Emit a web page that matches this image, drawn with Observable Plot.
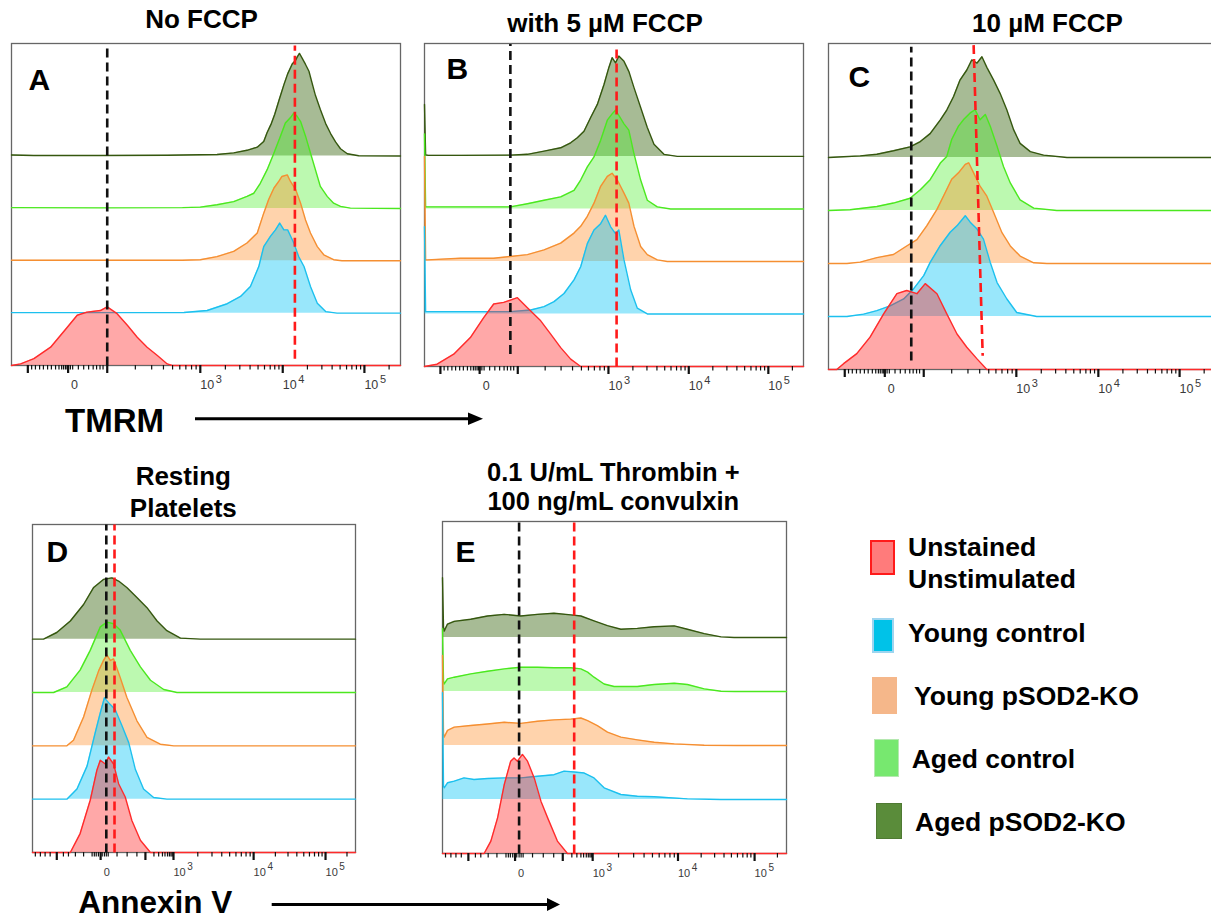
<!DOCTYPE html>
<html><head><meta charset="utf-8">
<script src="https://cdn.jsdelivr.net/npm/d3@7"></script>
<script src="https://cdn.jsdelivr.net/npm/@observablehq/plot@0.6"></script>
<style>
html,body{margin:0;padding:0;background:#fff;overflow:hidden;}
#root{position:relative;width:1211px;height:922px;overflow:hidden;font-family:"Liberation Sans",Arial,sans-serif;}
.t{position:absolute;white-space:nowrap;font-weight:bold;line-height:1;color:#000;}
.sw{position:absolute;box-sizing:border-box;}
</style></head><body><div id="root"></div>
<script>
// ---------- Data: histograms as [display channel (0-1024), height (row spacing = 100)] ----------
// Panel A – TMRM, no FCCP
const A_dark   = [[0,2],[59,1],[234,1],[410,1.5],[497,2.5],[541,3],[585,6],[620,11],[647,17],[664,28],[673,45],[684,62],[693,80],[704,106],[717,136],[727,157],[739,176],[748,183],[752,189],[758,196],[765,187],[774,175],[783,162],[791,140],[800,116],[813,89],[827,62],[840,43],[853,27],[866,14],[884,4.5],[914,0.5],[1024,0]];
const A_green  = [[0,1.5],[234,1],[450,1.5],[497,2.5],[541,7],[585,13],[620,23],[638,29],[655,48],[673,74],[691,106],[708,138],[721,163],[734,173],[743,182],[752,176],[761,166],[774,138],[787,106],[800,74],[813,42],[831,23],[848,10],[866,4],[892,0.5],[1024,0]];
const A_orange = [[0,1],[300,1],[450,1],[497,2],[541,8],[585,18],[620,34],[647,53],[664,91],[677,117],[691,139],[704,152],[712,161],[726,164],[734,152],[748,136],[761,110],[774,78],[787,53],[805,27],[822,11.5],[848,2],[870,0],[1024,0]];
const A_blue   = [[0,1],[300,1],[454,1.3],[515,5],[568,18],[603,32],[629,51],[651,89],[664,127],[682,147],[695,159],[706,172],[717,159],[727,159],[743,134],[756,108],[770,89],[787,51],[805,19],[827,3],[857,0],[1024,0]];
const A_red    = [[0,0],[24,3],[59,13],[103,35],[147,73],[173,96],[199,102],[234,105],[252,112],[278,99],[305,77],[331,54],[357,35],[384,19],[410,3],[423,0],[1024,0]];
// Panel B – TMRM, 5 µM FCCP
const B_dark   = [[0,99],[3,3],[10,2],[100,2],[232,2.5],[278,4],[323,10],[368,16.5],[395,26],[413,35.5],[431,48],[449,74],[467,99],[485,137],[498,169],[507,188],[516,178],[525,191],[539,181],[552,162],[566,131],[584,93],[602,55],[620,23],[647,4],[683,0],[1024,0]];
const B_green  = [[0,143],[3,4],[7,4],[232,4],[278,10],[323,16.5],[368,23],[404,35.5],[422,55],[440,80],[458,99],[476,131],[485,150],[494,169],[507,181],[516,188],[525,178],[539,162],[552,150],[566,105],[584,55],[602,16.5],[629,4],[665,0],[1024,0]];
const B_orange = [[0,200],[3,3],[7,3],[97,6],[187,6],[232,9.5],[278,13],[323,22],[368,35],[404,54],[422,67],[440,86],[458,111],[476,143],[494,162],[507,168],[521,155],[539,130],[552,111],[566,67],[584,28.5],[602,13],[629,3],[656,0],[1024,0]];
const B_blue   = [[0,166],[3,4.4],[7,4.4],[142,4.4],[232,4.4],[287,7.6],[323,14],[350,23.5],[377,39],[404,65],[422,90],[440,134],[458,160],[476,172],[489,188],[503,166],[516,153],[525,160],[539,103],[557,46],[575,11],[602,0],[1024,0]];
const B_red    = [[0,0],[34,4.4],[79,23.5],[124,55],[160,93],[187,119],[214,122],[251,131],[278,112],[314,87],[341,61.5],[368,36],[395,14],[422,0],[1024,0]];
// Panel C – TMRM, 10 µM FCCP
const C_dark   = [[0,0],[40,1.3],[84,3],[128,6],[172,12.6],[216,20],[243,30],[269,45],[296,71],[313,89.5],[331,115],[348,146],[366,165],[379,184],[393,178],[406,190],[419,170],[437,146],[454,121],[472,89.5],[490,52],[507,26.5],[534,11],[569,4.4],[631,0],[1024,0]];
const C_green  = [[0,0],[57,1.3],[128,7.6],[172,14],[216,23],[243,39],[269,58],[296,89.5],[313,102],[326,134],[344,159],[357,171],[375,184],[388,190],[401,171],[415,181],[428,159],[446,121],[463,83],[481,52],[507,20],[543,4.4],[604,0],[1024,0]];
const C_orange = [[0,0],[49,0],[84,2.5],[128,11],[172,17],[207,33],[234,45],[260,71],[287,102],[309,134],[326,159],[344,171],[362,187],[371,190],[384,171],[401,146],[419,127],[437,96],[459,58],[481,33],[507,14],[543,1.3],[578,0],[1024,0]];
const C_blue   = [[0,0],[49,0],[93,4.4],[128,11],[163,20],[199,33],[225,52],[252,77],[269,102],[296,134],[322,159],[340,171],[362,190],[375,178],[393,165],[410,146],[428,102],[446,64],[472,33],[498,7.6],[551,0],[1024,0]];
const C_red    = [[0,0],[22,0],[40,11],[75,30],[110,61],[146,105],[181,143],[207,149],[234,143],[256,162],[287,143],[313,105],[340,67],[366,42],[393,20],[419,0],[1024,0]];
// Panel D – Annexin V, resting
const D_dark   = [[0,0],[35,0],[77,12.5],[120,34],[162,65],[194,97],[225,112],[252,115],[273,109],[299,97],[331,78],[363,59],[395,34],[426,16],[469,2],[532,0],[1024,0]];
const D_green  = [[0,0],[67,0],[109,10.6],[151,42],[183,79],[215,123],[236,132],[257,129],[278,117],[310,79],[342,48],[374,23],[416,5.6],[458,0],[1024,0]];
const D_orange = [[0,0],[109,0],[130,10.6],[162,54],[188,104],[210,141],[225,160],[236,170],[247,160],[257,163],[278,128],[299,91],[331,47],[363,16],[405,3],[448,0],[1024,0]];
const D_blue   = [[0,0],[109,0],[141,19],[173,62],[199,125],[215,162],[228,190],[241,181],[262,168],[284,137],[305,106],[326,56],[352,19],[384,3],[426,0],[1024,0]];
const D_red    = [[0,0],[120,0],[151,35.5],[183,98],[204,154],[215,173],[231,166],[241,179],[257,166],[273,129],[294,104],[315,60],[342,23],[374,0],[1024,0]];
// Panel E – Annexin V, thrombin + convulxin
const E_dark   = [[0,111],[3,20],[5,12],[15,25],[35,30],[84,34],[134,40],[184,43],[233,40],[283,43],[332,45],[382,42],[412,40],[451,31],[491,22],[531,15.5],[580,17],[630,20],[690,21.6],[729,15.5],[779,7.4],[829,1.2],[868,0],[1024,0]];
const E_green  = [[0,117],[3,20],[5,14],[15,23.5],[35,26.6],[84,32.7],[134,37.7],[184,42],[233,45],[283,45],[332,44],[382,44],[412,42],[432,36],[451,26.6],[481,14],[511,9.3],[580,9.3],[630,13],[690,15.5],[729,13],[779,5],[829,0.6],[870,0],[1024,0]];
const E_orange = [[0,167],[3,22],[5,15.5],[15,28],[35,34],[84,37],[134,40],[184,43],[233,41],[283,45],[332,47.6],[382,49],[412,51],[432,46],[461,37],[491,25],[531,15.5],[580,10.5],[630,6],[690,3],[779,0.6],[878,0],[1024,0]];
const E_blue   = [[0,198],[3,25],[5,21.6],[15,31],[35,34],[64,40],[94,37],[134,39],[184,40],[233,40],[283,43],[332,46],[362,52.5],[392,51],[422,49],[451,40],[481,21.6],[531,9.3],[580,6],[630,5],[729,1.2],[829,0],[1024,0]];
const E_red    = [[0,0],[124,0],[144,23],[164,66],[184,128],[203,171],[213,177],[223,171],[238,183.5],[253,171],[273,140],[293,97],[313,66],[342,23],[372,0],[1024,0]];

// Gate lines (channel, from/to height)
const A_black = [{x1:252,x2:252,y1:0,y2:606}];   const A_redLine = [{x1:746,x2:746,y1:13,y2:611}];
const B_black = [{x1:232,x2:232,y1:24,y2:614}];   const B_redLine = [{x1:519,x2:519,y1:0,y2:612}];
const C_black = [{x1:219,x2:219,y1:17,y2:609}];   const C_redLine = [{x1:384,x2:408,y1:612,y2:26}];
const D_black = [{x1:234,x2:234,y1:0,y2:615}];    const D_redLine = [{x1:260,x2:260,y1:0,y2:615}];
const E_black = [{x1:228,x2:228,y1:0,y2:615}];    const E_redLine = [{x1:392,x2:392,y1:0,y2:615}];

// Axis ticks (display channels)
const TMRM_major = [43,149,252,497,714,929];
const TMRM_minor = [53,63,74,84,95,105,116,125,132,137,142,146,150,155,161,176,190,203,215,224,233,241,
  326,369,400,424,443,459,474,486, 563,601,628,649,666,681,693,704, 779,817,844,865,882,896,908,919, 994];
const TMRM_zero = [{ch:149,t:"0"}];
const TMRM_pow  = [{ch:497,e:"3"},{ch:714,e:"4"},{ch:929,e:"5"}];
const ANX_major = [77,216,358,447,701,929];
const ANX_minor = [9,25,40,56,98,114,136,162,189,196,202,209,221,228,234,240,268,300,331,
  385,400,412,420,428,434,439,443, 524,569,600,625,645,662,677,690, 770,810,838,860,878,894,907,918, 997];
const ANX_zero = [{ch:216,t:"0"}];
const ANX_pow  = [{ch:447,e:"3"},{ch:701,e:"4"},{ch:929,e:"5"}];

// Series (top row first so lower rows draw over)
const seriesKeys   = ["dark","green","orange","blue","red"];
const seriesOffset = [400,300,200,100,0];
const seriesStroke = ["#35570f","#4be81f","#f58f32","#1cc0ee","#ff2b2b"];
const seriesFill   = ["#3c6914","#50f030","#ff8c26","#00c3f5","#ff1a1a"];
const seriesOpac   = [0.45,0.38,0.38,0.4,0.38];

const legendLabels = [["Unstained","Unstimulated"],["Young control"],["Young pSOD2-KO"],["Aged control"],["Aged pSOD2-KO"]];

const panels = [
  {letter:"A", left:11, top:43, w:389, h:322, curves:[A_dark,A_green,A_orange,A_blue,A_red], black:A_black, red:A_redLine, axis:"T", ld:[17,25]},
  {letter:"B", left:424, top:43, w:379, h:323, curves:[B_dark,B_green,B_orange,B_blue,B_red], black:B_black, red:B_redLine, axis:"T", ld:[22,14]},
  {letter:"C", left:828, top:43, w:387, h:326, curves:[C_dark,C_green,C_orange,C_blue,C_red], black:C_black, red:C_redLine, axis:"T", ld:[20,22]},
  {letter:"D", left:32, top:524, w:323, h:328, curves:[D_dark,D_green,D_orange,D_blue,D_red], black:D_black, red:D_redLine, axis:"N", ld:[14,16]},
  {letter:"E", left:442, top:521, w:344, h:332, curves:[E_dark,E_green,E_orange,E_blue,E_red], black:E_black, red:E_redLine, axis:"N", ld:[13,19]},
];

const root = document.getElementById("root");
const FONT = '"Liberation Sans", Arial, sans-serif';

for (const p of panels) {
  const major = p.axis === "T" ? TMRM_major : ANX_major;
  const minor = p.axis === "T" ? TMRM_minor : ANX_minor;
  const zero  = p.axis === "T" ? TMRM_zero : ANX_zero;
  const pow   = p.axis === "T" ? TMRM_pow : ANX_pow;
  const fs  = p.axis === "T" ? 12.5 : 11;
  const efs = p.axis === "T" ? 11 : 10;
  const marks = [Plot.frame({stroke:"#666", strokeWidth:1.3})];
  p.curves.forEach((data, i) => {
    const off = seriesOffset[i];
    marks.push(Plot.areaY(data, {x: d => d[0], y1: off, y2: d => off + d[1], fill: seriesFill[i], fillOpacity: seriesOpac[i]}));
    marks.push(Plot.line(data, {x: d => d[0], y: d => off + d[1], stroke: seriesStroke[i], strokeWidth: 1.4}));
  });
  marks.push(Plot.axisX({ticks: minor, tickSize: 4.5, tickFormat: () => "", stroke: "#111", strokeWidth: 1.2, label: null}));
  marks.push(Plot.axisX({ticks: major, tickSize: 8, tickFormat: () => "", stroke: "#111", strokeWidth: 2.2, label: null}));
  marks.push(Plot.text(zero, {x: "ch", text: "t", frameAnchor: "bottom", textAnchor: "start", dx: 3, dy: 23, fontSize: fs, fill: "#3a3a3a"}));
  marks.push(Plot.text(pow, {x: "ch", text: () => "10", frameAnchor: "bottom", textAnchor: "start", dy: 23, fontSize: fs, fill: "#3a3a3a"}));
  marks.push(Plot.text(pow, {x: "ch", text: "e", frameAnchor: "bottom", textAnchor: "start", dx: fs * 1.12 + 1.5, dy: 17, fontSize: efs, fill: "#3a3a3a"}));
  marks.push(Plot.link(p.black, {x1: "x1", x2: "x2", y1: "y1", y2: "y2", stroke: "#111", strokeWidth: 2.6, strokeDasharray: "9,5"}));
  marks.push(Plot.link(p.red, {x1: "x1", x2: "x2", y1: "y1", y2: "y2", stroke: "#ff1a1a", strokeWidth: 2.6, strokeDasharray: "9,5"}));
  marks.push(Plot.text([p.letter], {frameAnchor: "top-left", dx: p.ld[0], dy: p.ld[1], lineAnchor: "top", fontSize: 30, fontWeight: "bold", fill: "#000"}));
  const svg = Plot.plot({
    width: p.w + 2, height: p.h + 46,
    marginLeft: 1, marginRight: 1, marginTop: 1, marginBottom: 45,
    x: {domain: [0, 1024]}, y: {domain: [0, 615], axis: null},
    style: {fontFamily: FONT, background: "transparent", overflow: "visible"},
    marks
  });
  svg.style.position = "absolute";
  svg.style.left = (p.left - 1) + "px";
  svg.style.top = (p.top - 1) + "px";
  root.appendChild(svg);
}

// ---------- Text ----------
function txt(s, x, baseline, size, anchor) {
  const d = document.createElement("div");
  d.className = "t";
  d.textContent = s;
  d.style.fontSize = size + "px";
  d.style.top = (baseline - 0.8465 * size) + "px";
  d.style.left = x + "px";
  if (anchor === "middle") d.style.transform = "translateX(-50%)";
  root.appendChild(d);
}
txt("No FCCP", 201.5, 28.3, 26, "middle");
txt("with 5 µM FCCP", 605, 31.7, 26, "middle");
txt("10 µM FCCP", 1047.5, 31.7, 26, "middle");
txt("Resting", 183.3, 485, 26, "middle");
txt("Platelets", 183.3, 516.7, 26, "middle");
txt("0.1 U/mL Thrombin +", 613.3, 481.7, 25.5, "middle");
txt("100 ng/mL convulxin", 613.3, 510.5, 25.5, "middle");
txt("TMRM", 65, 431.7, 33);
txt("Annexin V", 78.3, 913.5, 31.5);

// Legend
const swatches = [
  {x:870, y:540, w:25, h:35, bg:"#ff7b7b", bd:"2px solid #ff1a1a"},
  {x:871.7, y:618.3, w:22.5, h:34.5, bg:"#00c2e8", bd:"2px solid #9dd5f0"},
  {x:872.3, y:676.7, w:24.5, h:37.3, bg:"#f5b78a", bd:"none"},
  {x:874.3, y:739.3, w:24.7, h:37.3, bg:"#77e86f", bd:"1px solid #b5e8b0"},
  {x:876, y:803.3, w:25.7, h:36, bg:"#5a8c3a", bd:"1px solid #4f7a33"},
];
const legendPos = [[908,556.7,588.5],[908,642],[914,705],[911.7,768],[915,831.7]];
swatches.forEach((s, i) => {
  const d = document.createElement("div");
  d.className = "sw";
  Object.assign(d.style, {left: s.x + "px", top: s.y + "px", width: s.w + "px", height: s.h + "px", background: s.bg, border: s.bd});
  root.appendChild(d);
  const lp = legendPos[i];
  legendLabels[i].forEach((line, j) => txt(line, lp[0], lp[1 + j], 26.5));
});

// Axis arrows
const NS = "http://www.w3.org/2000/svg";
const ov = document.createElementNS(NS, "svg");
ov.setAttribute("width", 1211); ov.setAttribute("height", 922);
ov.style.position = "absolute"; ov.style.left = "0"; ov.style.top = "0"; ov.style.pointerEvents = "none";
ov.innerHTML = `
  <line x1="195" y1="418.7" x2="472" y2="418.7" stroke="#000" stroke-width="3"/>
  <polygon points="468,412.5 483,418.7 468,424.9" fill="#000"/>
  <line x1="271.7" y1="904.5" x2="550" y2="904.5" stroke="#000" stroke-width="3"/>
  <polygon points="547,898 560,904.5 547,911" fill="#000"/>`;
root.appendChild(ov);
</script></body></html>
